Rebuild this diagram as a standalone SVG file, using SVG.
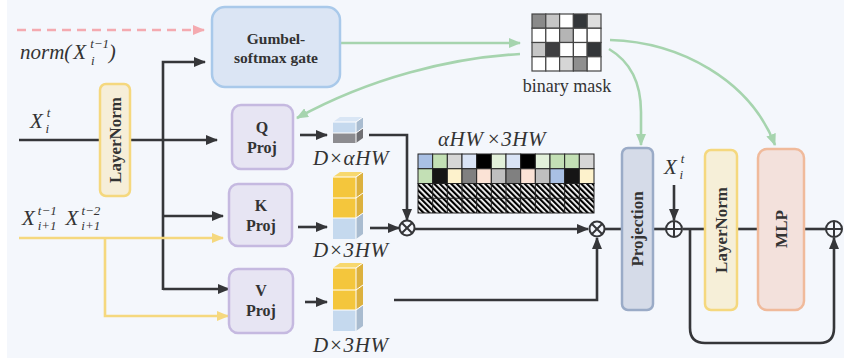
<svg xmlns="http://www.w3.org/2000/svg" width="844" height="364" viewBox="0 0 844 364">
<defs>
<style>
.ln{fill:none;stroke:#353639;stroke-width:2.6}
.yl{fill:none;stroke:#f5d87e;stroke-width:2.6}
.gr{fill:none;stroke:#a6d4ae;stroke-width:2.6}
.pk{fill:none;stroke:#f4aab0;stroke-width:2.6;stroke-dasharray:9 6}
.bt{font-family:"Liberation Serif","Times New Roman",serif;font-weight:bold;fill:#333;text-anchor:middle}
.mi{font-family:"Liberation Serif","Times New Roman",serif;font-style:italic;fill:#333}
.rm{font-family:"Liberation Serif","Times New Roman",serif;fill:#333}
.cell{stroke:#222;stroke-width:1}
.mk{stroke:#444;stroke-width:1.2}
.cw{fill:none;stroke:#fff;stroke-width:1}
</style>
<marker id="ab" markerUnits="userSpaceOnUse" markerWidth="12" markerHeight="10" refX="11" refY="5" orient="auto"><path d="M0,0 L12,5 L0,10 Z" fill="#353639"/></marker>
<marker id="ag" markerUnits="userSpaceOnUse" markerWidth="12" markerHeight="10" refX="11" refY="5" orient="auto"><path d="M0,0 L12,5 L0,10 Z" fill="#a6d4ae"/></marker>
<marker id="ay" markerUnits="userSpaceOnUse" markerWidth="12" markerHeight="10" refX="11" refY="5" orient="auto"><path d="M0,0 L12,5 L0,10 Z" fill="#f5d87e"/></marker>
<marker id="ap" markerUnits="userSpaceOnUse" markerWidth="12" markerHeight="10" refX="11" refY="5" orient="auto"><path d="M0,0 L12,5 L0,10 Z" fill="#f4aab0"/></marker>
<pattern id="hatch" patternUnits="userSpaceOnUse" width="4" height="10" patternTransform="rotate(-45)"><rect width="4" height="10" fill="#fff"/><rect width="2.2" height="10" fill="#000"/></pattern>
</defs>
<rect x="7" y="0" width="837" height="358" fill="#f4f7fc"/>

<g id="connectors">
<path class="pk" d="M17,30 H204" marker-end="url(#ap)"/>
<path class="ln" d="M163,290 V62 H205" marker-end="url(#ab)"/>
<path class="ln" d="M19,140 H100"/>
<path class="ln" d="M130,140 H217" marker-end="url(#ab)"/>
<path class="ln" d="M163,216 H223" marker-end="url(#ab)"/>
<path class="ln" d="M163,289 H229" marker-end="url(#ab)"/>
<path class="yl" d="M19,238 H223" marker-end="url(#ay)"/>
<path class="yl" d="M105,238 V316 H228" marker-end="url(#ay)"/>
<path class="ln" d="M300,135 H327" marker-end="url(#ab)"/>
<path class="ln" d="M298,227 H327" marker-end="url(#ab)"/>
<path class="ln" d="M305,302 H327" marker-end="url(#ab)"/>
<path class="ln" d="M369,135 H407 V220" marker-end="url(#ab)"/>
<path class="ln" d="M370,228 H399" marker-end="url(#ab)"/>
<path class="ln" d="M415,229 H588" marker-end="url(#ab)"/>
<path class="ln" d="M394,300 H597 V238" marker-end="url(#ab)"/>
<path class="ln" d="M604,229 H622"/>
<path class="ln" d="M653,229 H666"/>
<path class="ln" d="M674,185 V220" marker-end="url(#ab)"/>
<path class="ln" d="M683,229 H705"/>
<path class="ln" d="M737,229 H758"/>
<path class="ln" d="M804,229 H826"/>
<path class="ln" d="M690,229 V328 Q690,343 705,343 H820 Q834,343 834,328 V238" marker-end="url(#ab)"/>
<path class="gr" d="M341,43 H520" marker-end="url(#ag)"/>
<path class="gr" d="M520,54 C450,58 370,78 297,118" marker-end="url(#ag)"/>
<path class="gr" d="M609,49 Q641,68 641,112 V145" marker-end="url(#ag)"/>
<path class="gr" d="M610,40 C680,42 750,80 775,145" marker-end="url(#ag)"/>
</g>

<g id="gate">
<rect x="212" y="7" width="128" height="80" rx="13" fill="#dbe5f4" stroke="#a9c9ea" stroke-width="2.5"/>
<text class="bt" x="276" y="44" font-size="15.5">Gumbel-</text>
<text class="bt" x="276" y="63" font-size="15.5">softmax gate</text>
</g>

<g id="layernorm-left">
<rect x="100" y="84" width="30" height="112" rx="6" fill="#f6eed8" stroke="#f5d87e" stroke-width="2.5"/>
<text class="bt" transform="translate(121,140) rotate(-90)" font-size="17">LayerNorm</text>
</g>

<g id="q-proj">
<rect x="232" y="105" width="61" height="64" rx="9" fill="#e7e5f3" stroke="#c5b9e0" stroke-width="2.5"/>
<text class="bt" x="262" y="133" font-size="16">Q</text>
<text class="bt" x="262" y="153" font-size="16">Proj</text>
</g>
<g id="k-proj">
<rect x="229" y="184" width="63" height="62" rx="9" fill="#e7e5f3" stroke="#c5b9e0" stroke-width="2.5"/>
<text class="bt" x="261" y="211" font-size="16">K</text>
<text class="bt" x="261" y="231" font-size="16">Proj</text>
</g>
<g id="v-proj">
<rect x="229" y="269" width="64" height="64" rx="9" fill="#e7e5f3" stroke="#c5b9e0" stroke-width="2.5"/>
<text class="bt" x="261" y="296" font-size="16">V</text>
<text class="bt" x="261" y="316" font-size="16">Proj</text>
</g>

<g id="q-cube">
<polygon points="333,122 340,117 363,117 356,122" fill="#d9e6f5"/>
<polygon points="356,122 363,117 363,128 356,133" fill="#a9bcd0"/>
<polygon points="356,133 363,128 363,138 356,143" fill="#707074"/>
<rect x="333" y="122" width="23" height="11" fill="#c5d9ee"/>
<rect x="333" y="133" width="23" height="10" fill="#8c8c90"/>
<path class="cw" d="M333,133 H356 L363,128 M333,122 H356 L363,117 M356,122 V143"/>
<text class="mi" x="313" y="165" font-size="21" letter-spacing="0.6">D×αHW</text>
</g>

<g id="k-cube">
<polygon points="333,177 340,172 363,172 356,177" fill="#f7d86e"/>
<polygon points="356,177 363,172 363,213 356,218" fill="#dcb13e"/>
<polygon points="356,218 363,213 363,234 356,239" fill="#a9bcd0"/>
<rect x="333" y="177" width="23" height="41" fill="#f4c63c"/>
<rect x="333" y="218" width="23" height="21" fill="#c5d9ee"/>
<path class="cw" d="M333,198 H356 L363,193 M333,218 H356 L363,213 M333,177 H356 L363,172 M356,177 V239"/>
<text class="mi" x="313" y="257" font-size="21" letter-spacing="0.6">D×3HW</text>
</g>

<g id="v-cube">
<polygon points="333,268 340,263 363,263 356,268" fill="#f7d86e"/>
<polygon points="356,268 363,263 363,305 356,310" fill="#dcb13e"/>
<polygon points="356,310 363,305 363,326 356,331" fill="#a9bcd0"/>
<rect x="333" y="268" width="23" height="42" fill="#f4c63c"/>
<rect x="333" y="310" width="23" height="21" fill="#c5d9ee"/>
<path class="cw" d="M333,290 H356 L363,285 M333,310 H356 L363,305 M333,268 H356 L363,263 M356,268 V331"/>
<text class="mi" x="313" y="352" font-size="21" letter-spacing="0.6">D×3HW</text>
</g>

<g id="attention-matrix">
<text class="mi" x="438" y="146" font-size="21" letter-spacing="0.6">αHW<tspan dx="3">×3HW</tspan></text>
<g class="cell">
<rect x="418" y="154" width="14.67" height="14.75" fill="#a9c0e4"/>
<rect x="432.67" y="154" width="14.67" height="14.75" fill="#c3e0b5"/>
<rect x="447.33" y="154" width="14.67" height="14.75" fill="#d6d6d6"/>
<rect x="462" y="154" width="14.67" height="14.75" fill="#d9e3f5"/>
<rect x="476.67" y="154" width="14.67" height="14.75" fill="#000"/>
<rect x="491.33" y="154" width="14.67" height="14.75" fill="#e2f0da"/>
<rect x="506" y="154" width="14.67" height="14.75" fill="#d9e3f5"/>
<rect x="520.67" y="154" width="14.67" height="14.75" fill="#000"/>
<rect x="535.33" y="154" width="14.67" height="14.75" fill="#e2f0da"/>
<rect x="550" y="154" width="14.67" height="14.75" fill="#c3e0b5"/>
<rect x="564.67" y="154" width="14.67" height="14.75" fill="#c3e0b5"/>
<rect x="579.33" y="154" width="14.67" height="14.75" fill="#d6d6d6"/>
<rect x="418" y="168.75" width="14.67" height="14.75" fill="#c3e0b5"/>
<rect x="432.67" y="168.75" width="14.67" height="14.75" fill="#151515"/>
<rect x="447.33" y="168.75" width="14.67" height="14.75" fill="#fdf2cc"/>
<rect x="462" y="168.75" width="14.67" height="14.75" fill="#808080"/>
<rect x="476.67" y="168.75" width="14.67" height="14.75" fill="#fbe3d6"/>
<rect x="491.33" y="168.75" width="14.67" height="14.75" fill="#bfbfbf"/>
<rect x="506" y="168.75" width="14.67" height="14.75" fill="#808080"/>
<rect x="520.67" y="168.75" width="14.67" height="14.75" fill="#fbe3d6"/>
<rect x="535.33" y="168.75" width="14.67" height="14.75" fill="#bfbfbf"/>
<rect x="550" y="168.75" width="14.67" height="14.75" fill="#a9c0e4"/>
<rect x="564.67" y="168.75" width="14.67" height="14.75" fill="#151515"/>
<rect x="579.33" y="168.75" width="14.67" height="14.75" fill="#fdf2cc"/>
<rect x="418" y="183.5" width="176" height="29.5" fill="url(#hatch)"/>
</g>
<path class="cell" fill="none" d="M418,198.25 H594 M432.67,183.5 V213 M447.33,183.5 V213 M462,183.5 V213 M476.67,183.5 V213 M491.33,183.5 V213 M506,183.5 V213 M520.67,183.5 V213 M535.33,183.5 V213 M550,183.5 V213 M564.67,183.5 V213 M579.33,183.5 V213"/>
</g>

<g id="binary-mask">
<g class="mk">
<rect x="532" y="14" width="13.8" height="14.25" fill="#8a8a8a"/>
<rect x="545.8" y="14" width="13.8" height="14.25" fill="#c6c6c6"/>
<rect x="559.6" y="14" width="13.8" height="14.25" fill="#fff"/>
<rect x="573.4" y="14" width="13.8" height="14.25" fill="#333639"/>
<rect x="587.2" y="14" width="13.8" height="14.25" fill="#dedede"/>
<rect x="532" y="28.25" width="13.8" height="14.25" fill="#fff"/>
<rect x="545.8" y="28.25" width="13.8" height="14.25" fill="#fff"/>
<rect x="559.6" y="28.25" width="13.8" height="14.25" fill="#b5b5b5"/>
<rect x="573.4" y="28.25" width="13.8" height="14.25" fill="#fff"/>
<rect x="587.2" y="28.25" width="13.8" height="14.25" fill="#fff"/>
<rect x="532" y="42.5" width="13.8" height="14.25" fill="#c6c6c6"/>
<rect x="545.8" y="42.5" width="13.8" height="14.25" fill="#3f3f41"/>
<rect x="559.6" y="42.5" width="13.8" height="14.25" fill="#fff"/>
<rect x="573.4" y="42.5" width="13.8" height="14.25" fill="#fff"/>
<rect x="587.2" y="42.5" width="13.8" height="14.25" fill="#333639"/>
<rect x="532" y="56.75" width="13.8" height="14.25" fill="#fff"/>
<rect x="545.8" y="56.75" width="13.8" height="14.25" fill="#fff"/>
<rect x="559.6" y="56.75" width="13.8" height="14.25" fill="#d6d6d6"/>
<rect x="573.4" y="56.75" width="13.8" height="14.25" fill="#8f8f8f"/>
<rect x="587.2" y="56.75" width="13.8" height="14.25" fill="#fff"/>
</g>
<text class="rm" x="567" y="92" font-size="18" text-anchor="middle">binary mask</text>
</g>

<g id="mult-1">
<circle cx="407" cy="228" r="7.5" fill="#f4f7fc" stroke="#353639" stroke-width="2"/>
<path d="M401.7,222.7 L412.3,233.3 M412.3,222.7 L401.7,233.3" stroke="#353639" stroke-width="2"/>
</g>
<g id="mult-2">
<circle cx="597" cy="229" r="7.5" fill="#f4f7fc" stroke="#353639" stroke-width="2"/>
<path d="M591.7,223.7 L602.3,234.3 M602.3,223.7 L591.7,234.3" stroke="#353639" stroke-width="2"/>
</g>

<g id="projection">
<rect x="622" y="148" width="31" height="162" rx="6" fill="#d5dbe8" stroke="#9aabc7" stroke-width="2.5"/>
<text class="bt" transform="translate(643,229) rotate(-90)" font-size="17">Projection</text>
</g>

<g id="add-1">
<circle cx="674" cy="229" r="8" fill="#f4f7fc" stroke="#353639" stroke-width="2"/>
<path d="M666,229 H682 M674,221 V237" stroke="#353639" stroke-width="2"/>
</g>

<g id="layernorm-right">
<rect x="705" y="150" width="32" height="160" rx="6" fill="#f6efd8" stroke="#f5d87e" stroke-width="2.5"/>
<text class="bt" transform="translate(727,230) rotate(-90)" font-size="17">LayerNorm</text>
</g>

<g id="mlp">
<rect x="758" y="149" width="46" height="161" rx="9" fill="#f3e1dc" stroke="#f0ba9b" stroke-width="2.5"/>
<text class="bt" transform="translate(787,229) rotate(-90)" font-size="17">MLP</text>
</g>

<g id="add-2">
<circle cx="834" cy="229" r="8" fill="#f4f7fc" stroke="#353639" stroke-width="2"/>
<path d="M826,229 H842 M834,221 V237" stroke="#353639" stroke-width="2"/>
</g>

<g id="labels">
<text class="mi" x="20" y="59" font-size="21">norm(<tspan dx="2">X</tspan><tspan font-size="13" dx="4" dy="-11">t−1</tspan><tspan font-size="13" dx="-18" dy="17">i</tspan><tspan font-size="21" dx="14" dy="-6">)</tspan></text>
<text class="mi" x="30" y="128" font-size="21">X<tspan font-size="13" dy="-11" dx="4">t</tspan><tspan font-size="13" dx="-5" dy="16">i</tspan></text>
<text class="mi" x="22" y="225" font-size="21">X<tspan font-size="13" dy="-10" dx="3">t−1</tspan><tspan font-size="13" dx="-19" dy="15">i+1</tspan><tspan font-size="21" dx="9" dy="-5">X</tspan><tspan font-size="13" dy="-10" dx="3">t−2</tspan><tspan font-size="13" dx="-19" dy="15">i+1</tspan></text>
<text class="mi" x="664" y="174" font-size="21">X<tspan font-size="13" dy="-11" dx="4">t</tspan><tspan font-size="13" dx="-5" dy="16">i</tspan></text>
</g>
</svg>
